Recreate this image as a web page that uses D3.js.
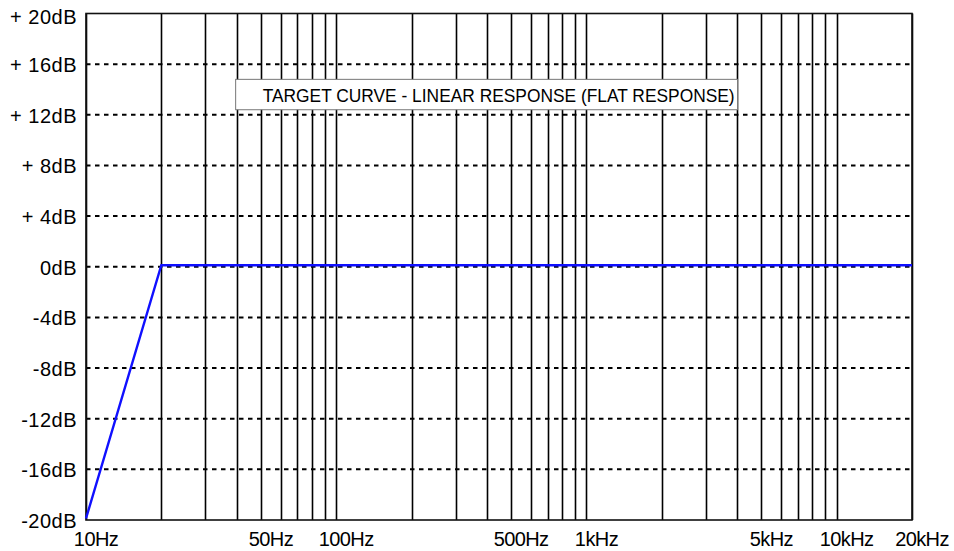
<!DOCTYPE html>
<html>
<head>
<meta charset="utf-8">
<script src="https://cdn.jsdelivr.net/npm/d3@7"></script>
<style>
  body { margin: 0; background: #fff; }
  svg text { font-family: "Liberation Sans", Arial, sans-serif; fill: #000; }
</style>
</head>
<body>
<svg width="954" height="551"></svg>
<script>
// curve points (Hz, dB)
var curveFreq = [10, 20, 20000];
var curveDb = [-20, 0, 0];

// grid
var gridFreqs = [10, 20, 30, 40, 50, 60, 70, 80, 90, 100, 200, 300, 400, 500, 600, 700, 800, 900,
  1000, 2000, 3000, 4000, 5000, 6000, 7000, 8000, 9000, 10000, 20000];
var dbTicks = [20, 16, 12, 8, 4, 0, -4, -8, -12, -16, -20];
var dbLabels = ['+ 20dB', '+ 16dB', '+ 12dB', '+ 8dB', '+ 4dB', '0dB', '-4dB', '-8dB', '-12dB', '-16dB', '-20dB'];
var freqTicks = [10, 50, 100, 500, 1000, 5000, 10000, 20000];
var freqLabels = ['10Hz', '50Hz', '100Hz', '500Hz', '1kHz', '5kHz', '10kHz', '20kHz'];
var title = 'TARGET CURVE - LINEAR RESPONSE (FLAT RESPONSE)';

draw();

function draw() {
    var margin = {top: 13.5, right: 42, bottom: 31, left: 86};
    var svg = d3.select('svg');
    var width = 954 - margin.left - margin.right;
    var height = 551 - margin.top - margin.bottom;
    var g = svg.append('g').attr('transform', 'translate(' + margin.left + ',' + margin.top + ')');

    var x = d3.scaleLog().domain([10, 20000]).range([0, width]);
    var y = d3.scaleLinear().domain([-20, 20]).range([height, 0]);

    // vertical solid grid
    g.selectAll('line.vg').data(gridFreqs).enter().append('line')
        .attr('class', 'vg')
        .attr('x1', function(d) { return Math.round(x(d)) + 0.5; })
        .attr('x2', function(d) { return Math.round(x(d)) + 0.5; })
        .attr('y1', 0).attr('y2', height)
        .attr('stroke', '#000').attr('stroke-width', 1.6);

    // horizontal dashed grid
    g.selectAll('line.hg').data(dbTicks.slice(1, -1)).enter().append('line')
        .attr('class', 'hg')
        .attr('x1', 0).attr('x2', width)
        .attr('y1', function(d) { return y(d); })
        .attr('y2', function(d) { return y(d); })
        .attr('stroke', '#000').attr('stroke-width', 2)
        .attr('stroke-dasharray', '4.5,4.5');

    // title box
    var bx0 = x(40) - 1, bx1 = x(4000) + 0.5;
    var by0 = y(14.8), by1 = y(12.4);
    g.append('rect')
        .attr('x', bx0).attr('y', by0)
        .attr('width', bx1 - bx0).attr('height', by1 - by0)
        .attr('fill', '#fff').attr('stroke', '#777').attr('stroke-width', 1);
    g.append('text')
        .attr('x', (bx0 + bx1) / 2 + 12).attr('y', (by0 + by1) / 2 + 7)
        .attr('text-anchor', 'middle')
        .attr('textLength', 472).attr('lengthAdjust', 'spacingAndGlyphs')
        .style('font-size', '19px')
        .text(title);

    // frame
    g.append('rect')
        .attr('x', 0).attr('y', 0).attr('width', width).attr('height', height)
        .attr('fill', 'none').attr('stroke', '#111').attr('stroke-width', 1.6);

    // curve
    var line = d3.line()
        .x(function(d) { return x(d[0]); })
        .y(function(d) { return y(d[1]) - 1.5; });
    g.append('path')
        .datum(d3.zip(curveFreq, curveDb))
        .attr('d', line)
        .attr('fill', 'none').attr('stroke', '#1010ff').attr('stroke-width', 2.4);

    // y labels
    g.selectAll('text.yl').data(dbTicks).enter().append('text')
        .attr('class', 'yl')
        .attr('x', -9)
        .attr('y', function(d) { return y(d) + (d === 20 ? 10 : 8); })
        .attr('text-anchor', 'end')
        .style('font-size', '20px')
        .style('letter-spacing', '0.5px')
        .text(function(d, i) { return dbLabels[i]; });

    // x labels
    g.selectAll('text.xl').data(freqTicks).enter().append('text')
        .attr('class', 'xl')
        .attr('x', function(d) { return x(d) + 10; })
        .attr('y', height + 26)
        .attr('text-anchor', 'middle')
        .style('font-size', '20px')
        .style('letter-spacing', '-0.6px')
        .text(function(d, i) { return freqLabels[i]; });
}
</script>
</body>
</html>
